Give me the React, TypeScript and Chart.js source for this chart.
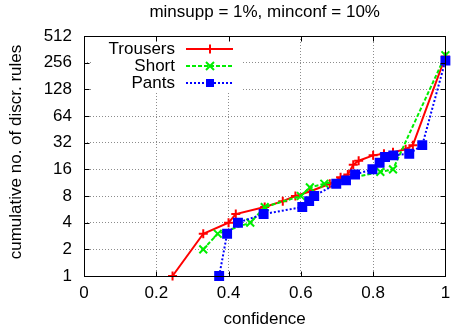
import React, { useEffect, useRef } from 'react';
import { Chart, registerables } from 'chart.js';

Chart.register(...registerables);

// ---- data ----
const seriesNames = ['Trousers', 'Short', 'Pants'];

const trousersX = [0.245, 0.33, 0.4, 0.42, 0.5, 0.55, 0.585, 0.625, 0.68, 0.71, 0.73, 0.745, 0.76, 0.8, 0.83, 0.855, 0.89, 0.91, 1.0];
const trousersY = [1, 3, 4, 5, 6, 7, 8, 9, 11, 13, 14, 18, 20, 23, 24, 25, 27, 30, 300];

const shortX = [0.33, 0.37, 0.46, 0.5, 0.6, 0.625, 0.665, 0.82, 0.855, 1.0];
const shortY = [2, 3, 4, 6, 8, 10, 11, 15, 16, 310];

const pantsX = [0.374, 0.396, 0.426, 0.497, 0.604, 0.623, 0.637, 0.698, 0.725, 0.75, 0.798, 0.818, 0.833, 0.856, 0.9, 0.936, 1.0];
const pantsY = [1, 3, 4, 5, 6, 7, 8, 11, 12, 14, 16, 19, 22, 23, 24, 30, 270];

const xTicks = [0, 0.2, 0.4, 0.6, 0.8, 1];
const yTicks = [1, 2, 4, 8, 16, 32, 64, 128, 256, 512];

const titleText = 'minsupp = 1%, minconf = 10%';
const xTitleText = 'confidence';
const yTitleText = 'cumulative no. of discr. rules';

const FONT = '"Liberation Sans", Arial, Helvetica, sans-serif';
const COLORS = ['#ff0000', '#00ee00', '#0000ff'];
const DASHES: number[][] = [[], [4, 2], [2, 2]];
const STYLES = ['cross', 'crossRot', 'rect'];

function drawMarker(ctx: CanvasRenderingContext2D, style: string, x: number, y: number, color: string) {
  ctx.save();
  ctx.setLineDash([]);
  ctx.strokeStyle = color;
  ctx.fillStyle = color;
  ctx.lineWidth = 2;
  if (style === 'cross') {
    ctx.beginPath();
    ctx.moveTo(x - 4.5, y); ctx.lineTo(x + 4.5, y);
    ctx.moveTo(x, y - 4.5); ctx.lineTo(x, y + 4.5);
    ctx.stroke();
  } else if (style === 'crossRot') {
    ctx.beginPath();
    ctx.moveTo(x - 4, y - 4); ctx.lineTo(x + 4, y + 4);
    ctx.moveTo(x - 4, y + 4); ctx.lineTo(x + 4, y - 4);
    ctx.stroke();
  } else {
    ctx.fillRect(x - 4, y - 4, 8, 8);
  }
  ctx.restore();
}

const gnuplotPlugin = {
  id: 'gnuplotDecor',
  beforeDatasetsDraw(chart: any) {
    const { ctx, chartArea } = chart;
    ctx.save();
    ctx.fillStyle = '#ffffff';
    ctx.fillRect(chartArea.left + 8, chartArea.top + 2, 151, 53);
    ctx.restore();
  },
  afterDatasetsDraw(chart: any) {
    const { ctx, chartArea } = chart;
    const { left, right, top, bottom } = chartArea;
    const xs = chart.scales.x;
    const ys = chart.scales.y;
    ctx.save();
    // frame
    ctx.strokeStyle = '#000';
    ctx.lineWidth = 1;
    ctx.setLineDash([]);
    const L = Math.round(left) + 0.5, R = Math.round(right) + 0.5, T = Math.round(top) + 0.5, B = Math.round(bottom) + 0.5;
    ctx.strokeRect(L, T, R - L, B - T);
    // inward ticks
    ctx.beginPath();
    xTicks.forEach((v) => {
      const px = Math.round(xs.getPixelForValue(v)) + 0.5;
      ctx.moveTo(px, B); ctx.lineTo(px, B - 5);
      ctx.moveTo(px, T); ctx.lineTo(px, T + 5);
    });
    yTicks.forEach((v) => {
      const py = Math.round(ys.getPixelForValue(v)) + 0.5;
      ctx.moveTo(L, py); ctx.lineTo(L + 5, py);
      ctx.moveTo(R, py); ctx.lineTo(R - 5, py);
    });
    ctx.stroke();

    // legend
    ctx.font = `17px ${FONT}`;
    ctx.fillStyle = '#000';
    ctx.textAlign = 'right';
    ctx.textBaseline = 'middle';
    seriesNames.forEach((name, i) => {
      const y = top + 13 + i * 17;
      ctx.fillText(name, left + 91, y);
      ctx.save();
      ctx.strokeStyle = COLORS[i];
      ctx.lineWidth = 2;
      ctx.setLineDash(DASHES[i]);
      ctx.beginPath();
      ctx.moveTo(left + 102, y);
      ctx.lineTo(left + 149, y);
      ctx.stroke();
      ctx.restore();
      drawMarker(ctx, STYLES[i], left + 126, y, COLORS[i]);
    });

    // titles
    ctx.textAlign = 'center';
    ctx.textBaseline = 'alphabetic';
    ctx.fillText(titleText, (left + right) / 2, 17);
    ctx.textBaseline = 'middle';
    ctx.fillText(xTitleText, (left + right) / 2, 319);
    ctx.translate(16, (top + bottom) / 2 - 4);
    ctx.rotate(-Math.PI / 2);
    ctx.fillText(yTitleText, 0, 0);
    ctx.restore();
  },
};

const zeroPad = (s: any) => {
  s.paddingLeft = 0;
  s.paddingRight = 0;
  s.paddingTop = 0;
  s.paddingBottom = 0;
};

export default function App() {
  const ref = useRef<HTMLCanvasElement>(null);
  useEffect(() => {
    document.body.style.margin = '0';
    const canvas = ref.current;
    if (!canvas) return;
    const mk = (xs: number[], ys: number[]) => xs.map((x, i) => ({ x, y: ys[i] }));
    const seriesData = [mk(trousersX, trousersY), mk(shortX, shortY), mk(pantsX, pantsY)];
    const chart = new Chart(canvas, {
      type: 'line',
      data: {
        datasets: seriesNames.map((name, i) => ({
          label: name,
          data: seriesData[i],
          borderColor: COLORS[i],
          backgroundColor: COLORS[i],
          borderWidth: 2,
          borderDash: DASHES[i],
          pointStyle: STYLES[i] as any,
          pointRadius: i === 2 ? 5.6 : i === 1 ? 5.5 : 4.5,
          pointBorderWidth: 2,
          pointBorderColor: COLORS[i],
          pointBackgroundColor: COLORS[i],
          tension: 0,
          clip: false as any,
          order: 3 - i,
        })),
      },
      options: {
        animation: false,
        responsive: false,
        devicePixelRatio: 1,
        layout: { padding: { top: 36, right: -2, left: 0, bottom: 0 } },
        plugins: {
          legend: { display: false },
          title: { display: false },
          tooltip: { enabled: false },
        },
        scales: {
          x: {
            type: 'linear',
            min: 0,
            max: 1,
            afterBuildTicks: (s: any) => { s.ticks = xTicks.map((v) => ({ value: v })); },
            afterFit: (s: any) => { s.height = 57; zeroPad(s); },
            grid: { color: 'rgba(0,0,0,0.45)', lineWidth: 1, drawTicks: false },
            border: { display: false, dash: [1, 2] },
            ticks: {
              padding: 7,
              color: '#000',
              font: { family: FONT, size: 17 },
              maxRotation: 0,
              autoSkip: false,
              callback: (v: any) => String(v),
            },
          },
          y: {
            type: 'logarithmic',
            min: 1,
            max: 512,
            afterBuildTicks: (s: any) => { s.ticks = yTicks.map((v) => ({ value: v })); },
            afterFit: (s: any) => { s.width = 84; zeroPad(s); },
            grid: { color: 'rgba(0,0,0,0.45)', lineWidth: 1, drawTicks: false },
            border: { display: false, dash: [1, 2] },
            ticks: {
              padding: 12,
              color: '#000',
              font: { family: FONT, size: 17 },
              autoSkip: false,
              callback: (v: any) => String(v),
            },
          },
        },
      } as any,
      plugins: [gnuplotPlugin],
    });
    return () => chart.destroy();
  }, []);
  return <canvas ref={ref} width={453} height={333} style={{ display: 'block' }} />;
}
